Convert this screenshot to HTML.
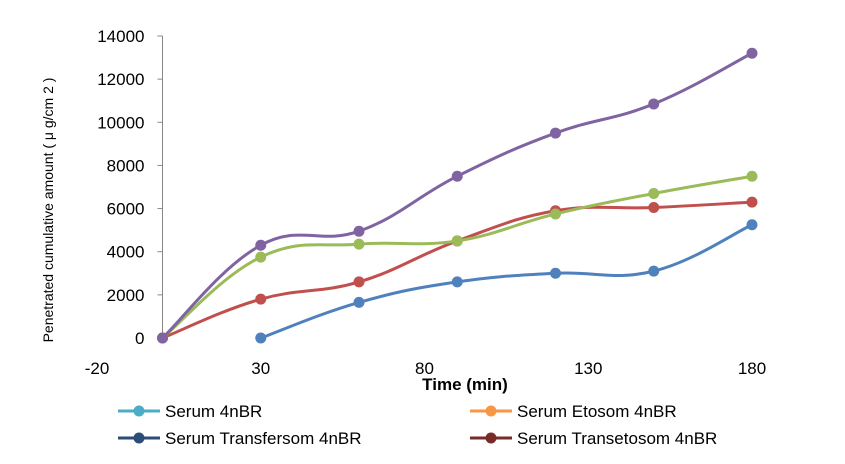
<!DOCTYPE html>
<html><head><meta charset="utf-8"><style>
body{margin:0;background:#fff;font-family:"Liberation Sans",sans-serif}
svg{display:block}
</style></head><body>
<svg id="chart" width="845" height="464">
<g id="axes"></g><g id="series"></g><g id="legend"></g>
</svg>
<script>
const categories=[0,30,60,90,120,150,180];
const seriesBlue=[null,0,1650,2600,3000,3100,5250];
const seriesRed=[0,1800,2600,4500,5900,6050,6300];
const seriesGreen=[0,3750,4350,4500,5750,6700,7500];
const seriesPurple=[0,4300,4950,7500,9500,10850,13200];
const xTicks=[-20,30,80,130,180];
const yTicks=[0,2000,4000,6000,8000,10000,12000,14000];
const legendLabels=["Serum 4nBR","Serum Etosom 4nBR","Serum Transfersom 4nBR","Serum Transetosom 4nBR"];
const legendColors=["#4BACC6","#F79646","#2C4D75","#772C2A"];

const NS="http://www.w3.org/2000/svg";
const X=v=>97+(v+20)*(655/200);
const Y=v=>338-v*(302/14000);
function mk(t,a,p){const e=document.createElementNS(NS,t);for(const k in a)e.setAttribute(k,a[k]);p.appendChild(e);return e;}
const axes=document.getElementById('axes');
let yl=mk('line',{x1:X(0),x2:X(0),y1:Y(0),y2:Y(14000),stroke:'#888'},axes);


yTicks.forEach(v=>{
 mk('line',{x1:X(0)-5,x2:X(0),y1:Y(v),y2:Y(v),stroke:'#888'},axes);
 const t=mk('text',{x:X(0)-18,y:Y(v)+6,'text-anchor':'end','font-size':17},axes);t.textContent=v;
 
 
});
xTicks.forEach(v=>{
 const t=mk('text',{x:X(v),y:374,'text-anchor':'middle','font-size':17},axes);t.textContent=v;
 
 
});
let xt=mk('text',{x:465,y:390,'text-anchor':'middle','font-size':17,'font-weight':'bold'},axes);xt.textContent='Time (min)';


let yt=mk('text',{x:0,y:0,transform:'translate(53,210) rotate(-90)','text-anchor':'middle','font-size':14},axes);yt.textContent='Penetrated cumulative amount ( μ g/cm 2 )';



function path(vals){
 const p=[];vals.forEach((v,i)=>{if(v!==null)p.push([X(categories[i]),Y(v)]);});
 let d='M'+p[0][0]+','+p[0][1];
 for(let i=0;i<p.length-1;i++){
  const p0=p[i-1]||p[i],p1=p[i],p2=p[i+1],p3=p[i+2]||p2,s=0.6/3;
  d+=` C${p1[0]+(p2[0]-p0[0])*s},${p1[1]+(p2[1]-p0[1])*s} ${p2[0]-(p3[0]-p1[0])*s},${p2[1]-(p3[1]-p1[1])*s} ${p2[0]},${p2[1]}`;
 }
 return d;
}
const sg=document.getElementById('series');
[[seriesBlue,'#4F81BD','series-blue'],[seriesRed,'#C0504D','series-red'],[seriesGreen,'#9BBB59','series-green'],[seriesPurple,'#8064A2','series-purple']].forEach(([vals,c,n])=>{
 const g=mk('g',{},sg);
 
 
 mk('path',{d:path(vals),fill:'none',stroke:c,'stroke-width':3},g);
 vals.forEach((v,i)=>{
  if(v===null)return;
  const pt=mk('circle',{cx:X(categories[i]),cy:Y(v),r:5.5,fill:c},g);
  
  
 });
});
const lg=document.getElementById('legend');
legendLabels.forEach((l,i)=>{
 const x0=i%2?470:118,y0=i<2?411:438;
 const g=mk('g',{},lg);
 
 
 mk('line',{x1:x0,x2:x0+42,y1:y0,y2:y0,stroke:legendColors[i],'stroke-width':3},g);
 mk('circle',{cx:x0+21,cy:y0,r:5.5,fill:legendColors[i]},g);
 const t=mk('text',{x:x0+47,y:y0+6,'font-size':17},g);t.textContent=l;
});
</script>
</body></html>
